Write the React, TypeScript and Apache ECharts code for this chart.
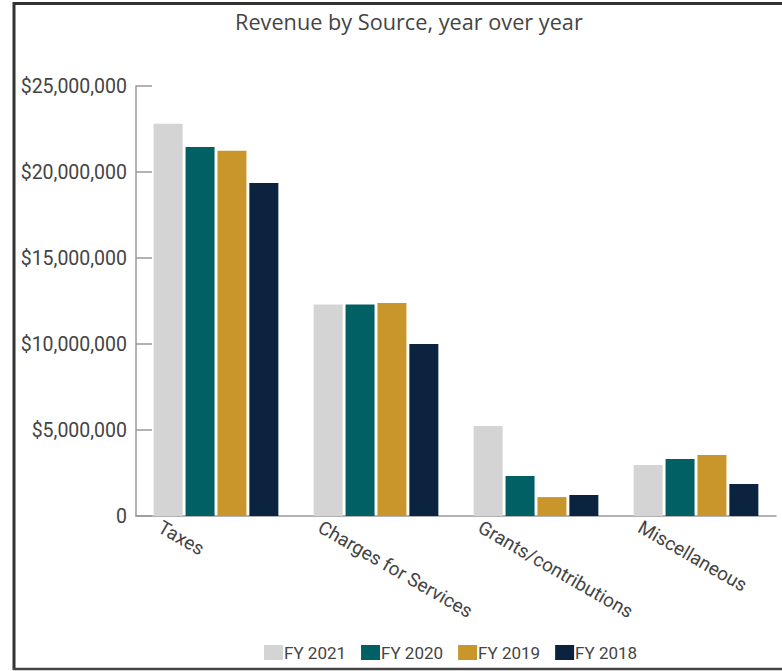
import React, { useEffect, useRef } from "react";
import * as echarts from "echarts";

const categories = ["Taxes", "Charges for Services", "Grants/contributions", "Miscellaneous"];
const seriesNames = ["FY 2021", "FY 2020", "FY 2019", "FY 2018"];
const fy2021 = [22800000, 12300000, 5230000, 2970000];
const fy2020 = [21450000, 12300000, 2330000, 3310000];
const fy2019 = [21230000, 12380000, 1100000, 3550000];
const fy2018 = [19360000, 10000000, 1220000, 1860000];
const seriesValues = [fy2021, fy2020, fy2019, fy2018];
const colors = ["#D3D4D3", "#006064", "#C9962B", "#0C2340"];
const yTicks = [0, 5000000, 10000000, 15000000, 20000000, 25000000];

const narrow = "Roboto, 'Liberation Sans', sans-serif";

export default function App() {
  const ref = useRef<HTMLDivElement>(null);
  useEffect(() => {
    if (!ref.current) return;
    const chart = echarts.init(ref.current, null, { renderer: "svg" });
    chart.setOption({
      animation: false,
      backgroundColor: "#ffffff",
      title: {
        text: "Revenue by Source, year over year",
        left: 230,
        top: 5,
        textStyle: { fontFamily: "'Open Sans', sans-serif", fontSize: 21.7, fontWeight: "normal", color: "#444444" },
      },
      legend: {
        data: seriesNames,
        left: 264,
        top: 644,
        padding: 0,
        itemWidth: 19,
        itemHeight: 15,
        itemGap: 15,
        icon: "rect",
        textStyle: { fontFamily: narrow, fontSize: 17, color: "#444444", padding: [0, 0, 0, -4] },
      },
      grid: { left: 136, right: 6, top: 86, bottom: 155, containLabel: false, outerBoundsMode: "none" },
      xAxis: {
        type: "category",
        data: categories,
        axisTick: { show: false },
        axisLine: { lineStyle: { color: "#999999", width: 1.5 } },
        axisLabel: {
          rotate: -30,
          margin: 42,
          align: "left",
          verticalAlign: "middle",
          padding: [0, 0, 0, -65],
          fontFamily: narrow,
          fontSize: 19,
          color: "#444444",
          interval: 0,
        },
      },
      yAxis: {
        type: "value",
        min: yTicks[0],
        max: yTicks[yTicks.length - 1],
        interval: yTicks[1] - yTicks[0],
        splitLine: { show: false },
        axisLine: { show: true, lineStyle: { color: "#999999", width: 1.5 } },
        axisTick: { show: true, inside: true, length: 16, lineStyle: { color: "#999999", width: 1.5 } },
        axisLabel: {
          margin: 9,
          fontFamily: narrow,
          fontSize: 19.5,
          color: "#444444",
          formatter: (v: number) => (v === 0 ? "0" : "$" + v.toLocaleString("en-US")),
        },
      },
      series: seriesNames.map((name, i) => ({
        name,
        type: "bar",
        data: seriesValues[i],
        barWidth: 29,
        barGap: "10%",
        itemStyle: { color: colors[i] },
      })),
      graphic: [
        { type: "line", shape: { x1: 13, y1: 3.5, x2: 782, y2: 3.5 }, style: { stroke: "#333333", lineWidth: 3 } },
        { type: "line", shape: { x1: 14, y1: 2, x2: 14, y2: 670 }, style: { stroke: "#333333", lineWidth: 3 } },
        { type: "line", shape: { x1: 13, y1: 669, x2: 782, y2: 669 }, style: { stroke: "#444444", lineWidth: 2.5 } },
      ],
    });
    return () => chart.dispose();
  }, []);
  return (
    <div style={{ position: "fixed", left: 0, top: 0, width: 782, height: 671 }}>
      <div ref={ref} style={{ width: 782, height: 671 }} />
    </div>
  );
}
